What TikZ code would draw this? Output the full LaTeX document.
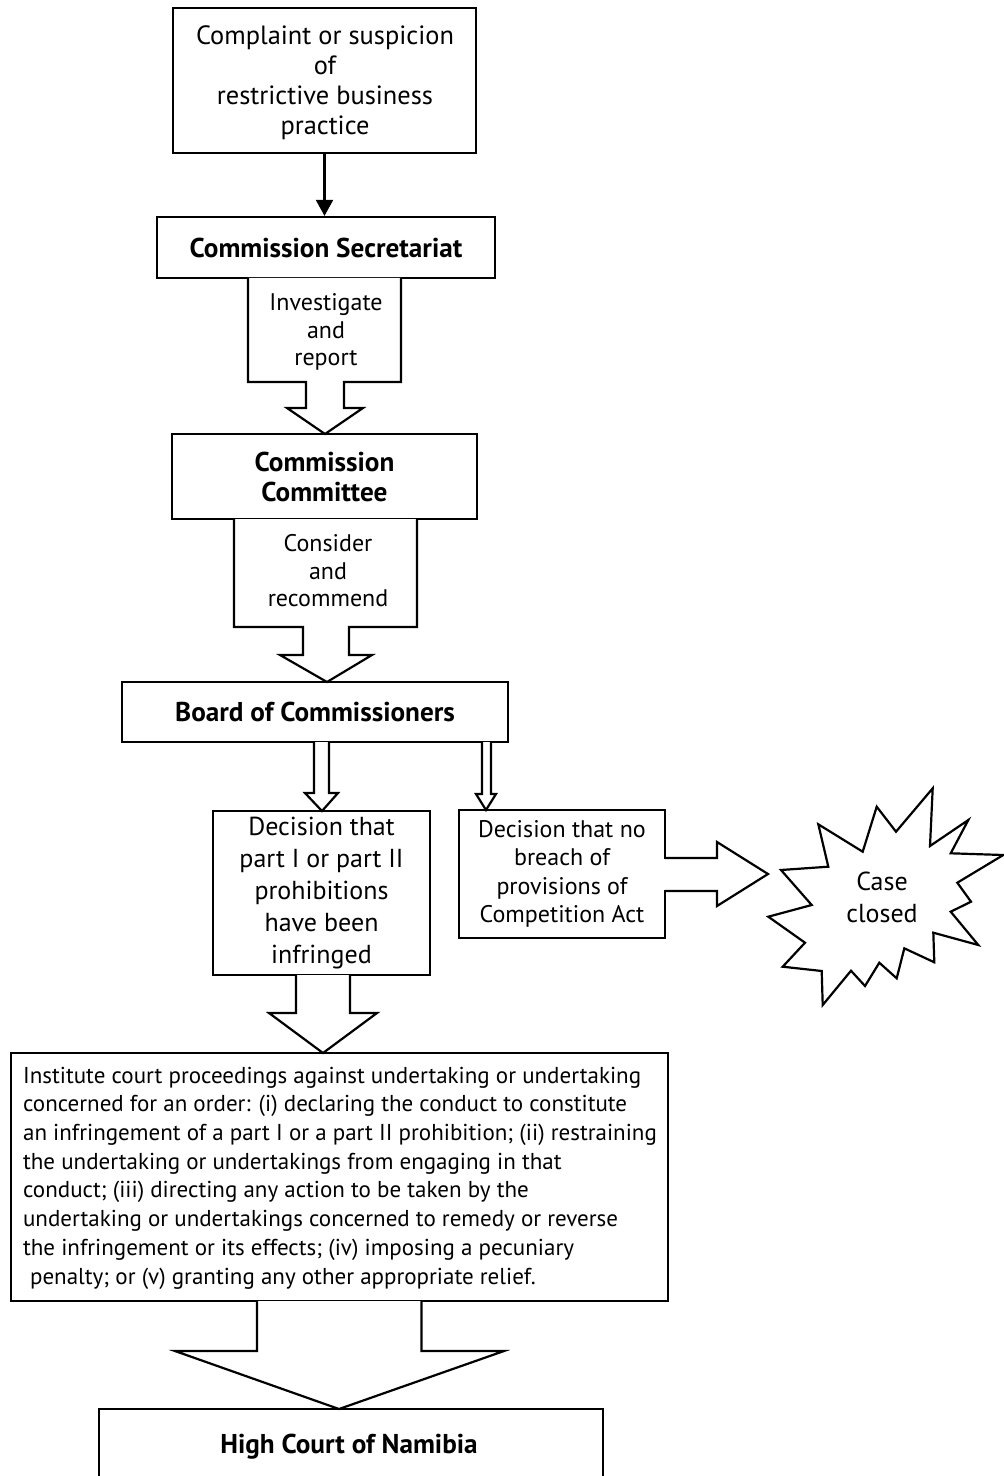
\documentclass[tikz,border=0pt]{standalone}
\usepackage{fontspec}
\setmainfont{PT Sans}
\usetikzlibrary{arrows.meta}
\begin{document}
\begin{tikzpicture}[x=0.5pt,y=-0.5pt, line width=1.1pt, line join=miter,
  box/.style={draw, rectangle, inner sep=0pt, align=center},
  blk/.style={draw, fill=white, line join=miter},
  lbl/.style={align=center, inner sep=0pt},
  fa/.style={font=\fontsize{13.2}{15}\selectfont},
  fb/.style={font=\fontsize{13.6}{15}\selectfont\bfseries},
  fs/.style={font=\fontsize{12}{13.75}\selectfont},
]
\useasboundingbox (0,0) rectangle (1004,1476);

% boxes
\node[box, minimum width=151.5pt, minimum height=72.5pt] (top) at (324.5,80.5) {};
\node[lbl, fa] (toptxt) at (325,82.5)
  {Complaint or suspicion\\of\\restrictive business\\practice};
\node[box, fb, minimum width=169pt, minimum height=30.5pt] (sec) at (326,247.5)
  {Commission Secretariat};

% block arrow: investigate
\draw[blk] (248,278) -- (248,382) -- (306,382) -- (306,408) -- (287,408) -- (325,434)
  -- (363,408) -- (344,408) -- (344,382) -- (401,382) -- (401,278);
\node[lbl, fs] (inv) at (326,332) {Investigate\\and\\report};

\node[box, fb, minimum width=152.5pt, minimum height=42.5pt] (com) at (324.5,476.5)
  {Commission\\Committee};

% block arrow: consider
\draw[blk] (234,519) -- (234,627) -- (303,627) -- (303,655) -- (280,655) -- (327,682)
  -- (372,655) -- (349,655) -- (349,627) -- (417,627) -- (417,519);
\node[lbl, fs] (cons) at (328,571) {Consider\\and\\recommend};

\node[box, fb, minimum width=193pt, minimum height=30pt] (board) at (315,712)
  {Board of Commissioners};

% narrow arrows
\draw[blk] (314,742) -- (314,793) -- (305,793) -- (322,811) -- (338,793) -- (329,793) -- (329,742);
\draw[blk] (482,742) -- (482,794) -- (476,794) -- (486,810) -- (496,794) -- (491,794) -- (491,742);

\node[box, font=\fontsize{13}{16}\selectfont, minimum width=108.5pt, minimum height=82pt] (inf) at (321.5,893)
  {Decision that\\part I or part II\\prohibitions\\have been\\infringed};
\node[box, font=\fontsize{12}{14.25}\selectfont, minimum width=103pt, minimum height=64pt] (nob) at (562,874)
  {Decision that no\\breach of\\provisions of\\Competition Act};

% right block arrow
\fill[white] (662,859) rectangle (668,890);
\draw[line join=miter] (665,858) -- (717,858) -- (717,842) -- (768,874) -- (717,906) -- (717,891) -- (665,891);

% star
\draw[fill=white, line join=miter] (932.7,788.3) -- (930,846) -- (968.3,820) -- (950.7,853.3) -- (1003.3,855)
  -- (957.3,882.7) -- (971,901.7) -- (950.7,911.7) -- (978.3,945) -- (933.3,932.7)
  -- (934.3,962.3) -- (904.3,948.3) -- (896.7,978.3) -- (879.3,962.7) -- (865,986)
  -- (851,970.7) -- (822.7,1005) -- (821.7,971) -- (782.7,966.7) -- (805,942.7)
  -- (768.3,916.7) -- (811.7,905) -- (781,870) -- (828.3,866.7) -- (818.3,824.3)
  -- (862.7,851.7) -- (876.7,806.7) -- (896,831.7) -- cycle;
\node[lbl, font=\fontsize{13}{16}\selectfont] (closed) at (882,897) {Case\\closed};

% arrow from infringed box
\draw[blk] (296,975) -- (296,1013) -- (269,1013) -- (323,1053) -- (377,1013) -- (350,1013) -- (350,975);

\node[box, minimum width=328.5pt, minimum height=124pt] (big) at (339.5,1177) {};
\node[inner sep=0pt, anchor=west, align=left, font=\fontsize{11.5}{14.35}\selectfont] (bigtxt) at (22,1178)
  {Institute court proceedings against undertaking or undertaking\\
   concerned for an order: (i) declaring the conduct to constitute\\
   an infringement of a part I or a part II prohibition; (ii) restraining\\
   the undertaking or undertakings from engaging in that\\
   conduct; (iii) directing any action to be taken by the\\
   undertaking or undertakings concerned to remedy or reverse\\
   the infringement or its effects; (iv) imposing a pecuniary\\
   \hspace*{3.5pt}penalty; or (v) granting any other appropriate relief.};

% bottom block arrow
\draw[blk] (257,1301) -- (257,1351) -- (175,1351) -- (339,1409) -- (504,1351) -- (421.5,1351) -- (421.5,1301);

% high court (open at bottom)
\draw (99,1482) -- (99,1409) -- (603,1409) -- (603,1482);
\node[lbl, fb] (hc) at (349,1447) {High Court of Namibia};

% plain connector
\draw[-{Triangle[length=8pt,width=8.5pt]}] (top.south) -- (top.south |- sec.north);
\end{tikzpicture}
\end{document}
